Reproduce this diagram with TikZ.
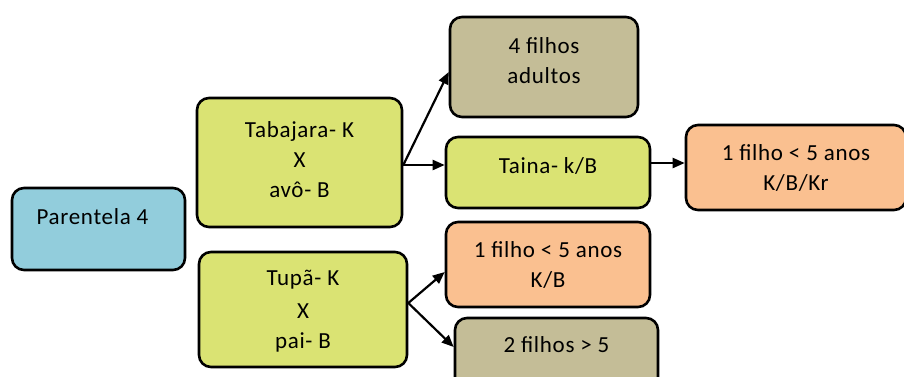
\documentclass[tikz,border=0pt]{standalone}
\usepackage{fontspec}
\setmainfont[LetterSpace=3]{Carlito}
\usetikzlibrary{arrows.meta}
\definecolor{blueF}{HTML}{92CDDC}
\definecolor{limeF}{HTML}{DAE373}
\definecolor{tanF}{HTML}{C4BD97}
\definecolor{peachF}{HTML}{FAC090}
\tikzset{
  box/.style={draw=black, line width=2.6pt, rounded corners=12pt, align=center,
    font=\fontsize{23}{30}\selectfont, inner sep=0pt},
  link/.style={line width=2.2pt, -{Triangle[length=12pt,width=10pt]}}
}
\newcommand{\up}[2]{\raisebox{#1}[\height][\depth]{#2}}
\begin{document}
\begin{tikzpicture}[x=1pt,y=-1pt]
\useasboundingbox[fill=white] (0,0) rectangle (904,376);
% left column
\node[box, fill=blueF, minimum width=173pt, minimum height=82pt] (par) at (98.5,229) {\up{12pt}{Parentela 4\hspace{12pt}}};
\node[box, fill=limeF, minimum width=205pt, minimum height=129pt] (tab) at (299.5,162.5) {\up{3pt}{Tabajara- K}\\\up{3pt}{X}\\\up{3pt}{avô- B}};
\node[box, fill=limeF, minimum width=208pt, minimum height=115pt] (tup) at (303,309.5) {Tupã- K\\\up{-3pt}{X}\\\up{-3pt}{pai- B}};
% middle column
\node[box, fill=tanF, minimum width=188pt, minimum height=100pt] (fil4) at (544,67) {\up{6pt}{4 filhos}\\\up{6pt}{adultos}};
\node[box, fill=limeF, minimum width=204pt, minimum height=71pt] (tai) at (548,172.5) {\up{7pt}{Taina- k/B}};
\node[box, fill=peachF, minimum width=204pt, minimum height=85pt] (kb) at (548,264.5) {1 filho < 5 anos\\K/B};
\node[box, fill=tanF, minimum width=203pt, minimum height=80pt] (fil2) at (556.5,358) {\up{13pt}{2 filhos > 5}};
% right column
\node[box, fill=peachF, minimum width=220pt, minimum height=85pt] (kbkr) at (796,167.5) {1 filho < 5 anos\\K/B/Kr};
% connectors
\draw[link] ([yshift=-2.5pt]tab.east) -- ([yshift=-5pt]fil4.west);
\draw[link] ([yshift=-2.5pt]tab.east) -- ([yshift=7.5pt]tai.west);
\draw[link] ([yshift=9.5pt]tai.east) -- ([yshift=4.5pt]kbkr.west);
\draw[link] ([yshift=6.5pt]tup.east) -- ([yshift=-7.5pt]kb.west);
\draw[link] ([yshift=6.5pt]tup.east) -- ([yshift=11pt]fil2.west);
\end{tikzpicture}
\end{document}
